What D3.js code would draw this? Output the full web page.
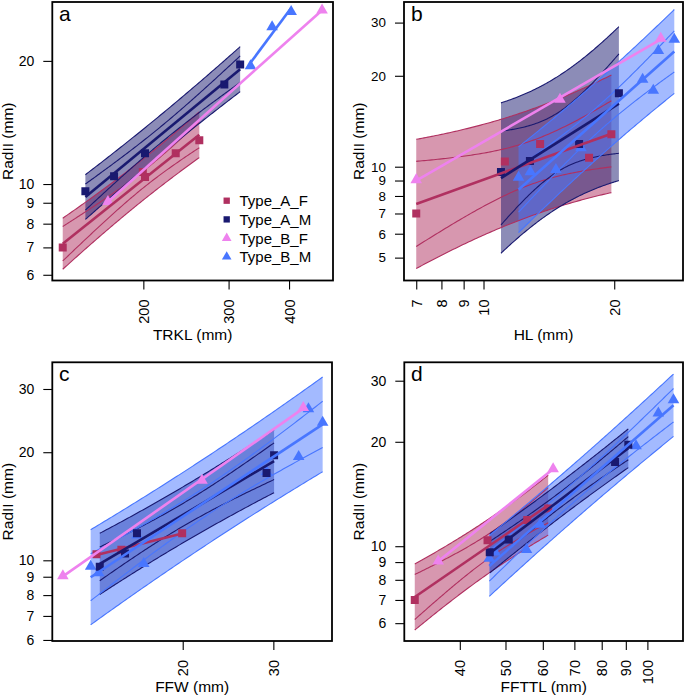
<!DOCTYPE html>
<html><head><meta charset="utf-8">
<script src="https://cdn.jsdelivr.net/npm/d3@7/dist/d3.min.js"></script>
<style>
body{margin:0;background:#fff}
svg{display:block}
text{font-family:"Liberation Sans",Arial,Helvetica,sans-serif;fill:#000}
</style>
</head><body>
<svg id="chart" width="685" height="697"></svg>
<script>
// ---------- data ----------
const groups = ["Type_A_F", "Type_A_M", "Type_B_F", "Type_B_M"];
const groupColors = ["#B03060", "#191970", "#EE82EE", "#4876FF"];
const groupShapes = ["square", "square", "triangle", "triangle"];

// panel a : TRKL (mm) vs RadII (mm)
const trkl_AF = [136.3, 199.5, 201.6, 233.3, 261];
const radii_trkl_AF = [7.0, 10.7, 10.4, 11.9, 12.8];
const trkl_AM = [151.8, 174, 201.6, 294, 317];
const radii_trkl_AM = [9.6, 10.45, 11.9, 17.5, 19.6];
const trkl_BF = [169, 468];
const radii_trkl_BF = [9.05, 26.6];
const trkl_BM = [333, 369, 404];
const radii_trkl_BM = [19.45, 24.2, 26.4];

// panel b : HL (mm)
const hl_AF = [7.0, 11.2, 13.5, 17.5, 19.7];
const radii_hl_AF = [7.0, 10.4, 11.9, 10.7, 12.8];
const hl_AM = [10.97, 12.79, 16.6, 20.5];
const radii_hl_AM = [9.6, 10.45, 11.9, 17.5];
const hl_BF = [7.0, 15.0, 25.6];
const radii_hl_BF = [9.05, 16.7, 26.6];
const hl_BM = [12.04, 12.82, 14.68, 16.77, 23.25, 24.6, 25.27, 27.5];
const radii_hl_BM = [9.22, 9.62, 9.78, 11.55, 19.45, 17.9, 24.2, 26.4];

// panel c : FFW (mm)  (first two Type_B_M values sit under Type_A_M squares)
const ffw_AF = [13.6, 15.2, 19.95];
const radii_ffw_AF = [10.4, 10.7, 11.9];
const ffw_AM = [13.8, 15.45, 16.3, 29.1, 30.1];
const radii_ffw_AM = [9.6, 10.45, 11.9, 17.5, 19.6];
const ffw_BF = [11.7, 21.8, 34.3];
const radii_ffw_BF = [9.05, 16.7, 26.6];
const ffw_BM = [16.3, 29.1, 13.25, 13.73, 16.8, 33.6, 35.1, 37.4];
const radii_ffw_BM = [11.75, 17.65, 9.62, 9.22, 9.78, 19.45, 26.4, 24.2];

// panel d : FFTTL (mm)
const ffttl_AF = [32.1, 45.8, 55.6, 61.6];
const radii_ffttl_AF = [7.0, 10.4, 11.9, 12.85];
const ffttl_AM = [46.3, 50.8, 85.4, 91.1];
const radii_ffttl_AM = [9.6, 10.45, 17.5, 19.6];
const ffttl_BF = [36.0, 63.1];
const radii_ffttl_BF = [9.05, 16.7];
const ffttl_BM = [46.2, 47.5, 55.4, 59.2, 94.6, 105.5, 113.6];
const radii_ffttl_BM = [9.22, 9.62, 9.78, 11.55, 19.45, 24.2, 26.4];

// tick labels
const xTicksA = [200, 300, 400];
const xTicksB = [7, 8, 9, 10, 20];
const xTicksC = [20, 30];
const xTicksD = [40, 50, 60, 70, 80, 90, 100];
const yTicksA = [6, 7, 8, 9, 10, 20];
const yTicksB = [5, 6, 7, 8, 9, 10, 20, 30];
const yTicksC = [6, 7, 8, 9, 10, 20, 30];
const yTicksD = [6, 7, 8, 9, 10, 20, 30];

// Student t 0.975 quantiles by degrees of freedom
const t975 = [NaN, 12.706, 4.303, 3.182, 2.776, 2.571, 2.447, 2.365, 2.306, 2.262];

// ---------- layout ----------
const panels = [
  {letter: "a", xlabel: "TRKL (mm)", box: [52.3, 2, 333, 280.5], xDom: [129.7, 493], yDom: [5.81, 27.86],
   xTicks: xTicksA, yTicks: yTicksA, yTickFont: 14, titleY: 340, ylabX: 13, letterPos: [59, 21], legend: true,
   sets: [[trkl_AF, radii_trkl_AF], [trkl_AM, radii_trkl_AM], [trkl_BF, radii_trkl_BF], [trkl_BM, radii_trkl_BM]]},
  {letter: "b", xlabel: "HL (mm)", box: [404, 2, 683, 280.5], xDom: [6.56, 28.8], yDom: [4.20, 35.1],
   xTicks: xTicksB, yTicks: yTicksB, yTickFont: 13.4, titleY: 340, ylabX: 364, letterPos: [411, 21], legend: false,
   sets: [[hl_AF, radii_hl_AF], [hl_AM, radii_hl_AM], [hl_BF, radii_hl_BF], [hl_BM, radii_hl_BM]]},
  {letter: "c", xlabel: "FFW (mm)", box: [52.3, 362.3, 332, 641], xDom: [11.16, 39.0], yDom: [5.96, 35.6],
   xTicks: xTicksC, yTicks: yTicksC, yTickFont: 14, titleY: 692, ylabX: 13, letterPos: [59, 381], legend: false,
   sets: [[ffw_AF, radii_ffw_AF], [ffw_AM, radii_ffw_AM], [ffw_BF, radii_ffw_BF], [ffw_BM, radii_ffw_BM]]},
  {letter: "d", xlabel: "FFTTL (mm)", box: [404.3, 362.3, 683, 641], xDom: [30.5, 119], yDom: [5.33, 33.9],
   xTicks: xTicksD, yTicks: yTicksD, yTickFont: 14, titleY: 692, ylabX: 364, letterPos: [411, 381], legend: false,
   sets: [[ffttl_AF, radii_ffttl_AF], [ffttl_AM, radii_ffttl_AM], [ffttl_BF, radii_ffttl_BF], [ffttl_BM, radii_ffttl_BM]]}
];

// ---------- log-log regression ----------
function fitLogLog(xs, ys) {
  const u = xs.map(Math.log10), v = ys.map(Math.log10), n = u.length;
  const ub = d3.mean(u), vb = d3.mean(v);
  let sxx = 0, sxy = 0;
  for (let i = 0; i < n; i++) { sxx += (u[i] - ub) ** 2; sxy += (u[i] - ub) * (v[i] - vb); }
  const b = sxy / sxx, a = vb - b * ub;
  let sse = 0;
  for (let i = 0; i < n; i++) sse += (v[i] - (a + b * u[i])) ** 2;
  const s = n > 2 ? Math.sqrt(sse / (n - 2)) : 0;
  const t = n > 2 ? t975[Math.min(n - 2, t975.length - 1)] : 0;
  return {a, b, ub, sxx, n, s, t, umin: d3.min(u), umax: d3.max(u)};
}

const svg = d3.select("#chart");
let clipId = 0;
const pointOrder = [3, 0, 1, 2];

panels.forEach(p => {
  const [x0, y0, x1, y1] = p.box;
  const x = d3.scaleLog().domain(p.xDom).range([x0, x1]);
  const y = d3.scaleLog().domain(p.yDom).range([y1, y0]);
  const g = svg.append("g");

  const cid = "clip" + (clipId++);
  g.append("clipPath").attr("id", cid).append("rect")
    .attr("x", x0).attr("y", y0).attr("width", x1 - x0).attr("height", y1 - y0);
  const plot = g.append("g").attr("clip-path", `url(#${cid})`);

  const fits = p.sets.map(([xs, ys]) => fitLogLog(xs, ys));
  const sample = f => d3.range(0, 101).map(i => f.umin + (f.umax - f.umin) * i / 100);

  // band fills
  fits.forEach((f, gi) => {
    if (f.n < 4) return;
    const us = sample(f);
    const pi = u => f.t * f.s * Math.sqrt(1 + 1 / f.n + (u - f.ub) ** 2 / f.sxx);
    const area = d3.area()
      .x(u => x(10 ** u))
      .y0(u => y(10 ** (f.a + f.b * u - pi(u))))
      .y1(u => y(10 ** (f.a + f.b * u + pi(u))));
    plot.append("path").attr("d", area(us))
      .attr("fill", groupColors[gi]).attr("fill-opacity", 0.5).attr("stroke", "none");
  });
  // band lines (prediction + confidence limits)
  fits.forEach((f, gi) => {
    if (f.n < 4) return;
    const us = sample(f);
    const piW = u => f.t * f.s * Math.sqrt(1 + 1 / f.n + (u - f.ub) ** 2 / f.sxx);
    const ciW = u => f.t * f.s * Math.sqrt(1 / f.n + (u - f.ub) ** 2 / f.sxx);
    [[piW, 1], [piW, -1], [ciW, 1], [ciW, -1]].forEach(([w, sgn]) => {
      const line = d3.line().x(u => x(10 ** u)).y(u => y(10 ** (f.a + f.b * u + sgn * w(u))));
      plot.append("path").attr("d", line(us)).attr("fill", "none")
        .attr("stroke", groupColors[gi]).attr("stroke-width", 1.1);
    });
  });
  // points
  pointOrder.forEach(gi => {
    const [xs, ys] = p.sets[gi];
    const sym = groupShapes[gi] === "square"
      ? d3.symbol().type(d3.symbolSquare).size(64)
      : d3.symbol().type(d3.symbolTriangle).size(58);
    plot.selectAll(null).data(xs.map((v, i) => [v, ys[i]])).enter().append("path")
      .attr("d", sym())
      .attr("transform", d => `translate(${x(d[0])},${y(d[1])})`)
      .attr("fill", groupColors[gi]);
  });
  // fitted lines
  fits.forEach((f, gi) => {
    const us = [f.umin, f.umax];
    const line = d3.line().x(u => x(10 ** u)).y(u => y(10 ** (f.a + f.b * u)));
    plot.append("path").attr("d", line(us)).attr("fill", "none")
      .attr("stroke", groupColors[gi]).attr("stroke-width", 2.6);
  });

  // box
  g.append("rect").attr("x", x0).attr("y", y0).attr("width", x1 - x0).attr("height", y1 - y0)
    .attr("fill", "none").attr("stroke", "#000").attr("stroke-width", 1.8);

  // axes
  const xa = g.append("g").attr("transform", `translate(0,${y1})`)
    .call(d3.axisBottom(x).tickValues(p.xTicks).tickFormat(d3.format("d")).tickSize(9));
  xa.select(".domain").remove();
  xa.selectAll("line").attr("stroke", "#000").attr("stroke-width", 1.1);
  xa.selectAll("text").attr("transform", "rotate(-90)").attr("x", -19).attr("y", 0)
    .attr("dy", "0.35em").attr("text-anchor", "end")
    .style("font-size", "14.5px").style("font-family", "Liberation Sans, Arial, sans-serif").attr("fill", "#000");

  const ya = g.append("g").attr("transform", `translate(${x0},0)`)
    .call(d3.axisLeft(y).tickValues(p.yTicks).tickFormat(d3.format("d")).tickSize(9).tickPadding(9));
  ya.select(".domain").remove();
  ya.selectAll("line").attr("stroke", "#000").attr("stroke-width", 1.1);
  ya.selectAll("text").style("font-size", p.yTickFont + "px")
    .style("font-family", "Liberation Sans, Arial, sans-serif").attr("fill", "#000");

  // titles
  g.append("text").attr("x", (x0 + x1) / 2).attr("y", p.titleY).attr("text-anchor", "middle")
    .style("font-size", "15.5px").text(p.xlabel);
  g.append("text").attr("transform", `translate(${p.ylabX},${(y0 + y1) / 2}) rotate(-90)`)
    .attr("text-anchor", "middle").style("font-size", "15.5px").text("RadII (mm)");
  g.append("text").attr("x", p.letterPos[0]).attr("y", p.letterPos[1])
    .style("font-size", "21px").text(p.letter);

  // legend
  if (p.legend) {
    const lg = g.append("g");
    groups.forEach((name, gi) => {
      const ly = 200.7 + gi * 18.7;
      const sym = groupShapes[gi] === "square"
        ? d3.symbol().type(d3.symbolSquare).size(40)
        : d3.symbol().type(d3.symbolTriangle).size(40);
      lg.append("path").attr("d", sym()).attr("transform", `translate(226.7,${ly})`)
        .attr("fill", groupColors[gi]);
      lg.append("text").attr("x", 239.5).attr("y", ly + 5.5).style("font-size", "15px").text(name);
    });
  }
});
</script>
</body></html>
